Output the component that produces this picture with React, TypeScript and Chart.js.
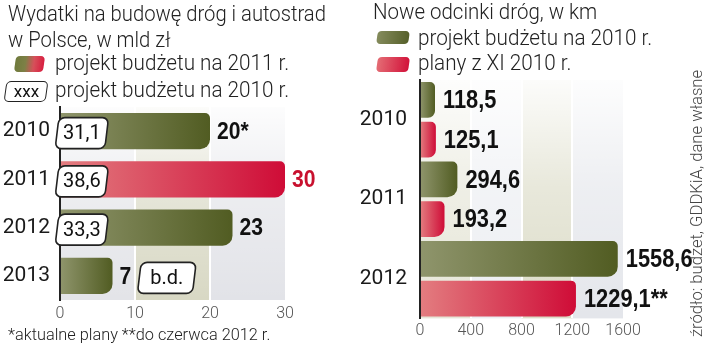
import React, { useEffect, useRef } from "react";
import { Chart, registerables } from "chart.js";

Chart.register(...registerables);

// ---------- data ----------
const spendingYears = ["2010", "2011", "2012", "2013"];
const spendingBudget2011 = [20, 30, 23, 7];
const spendingNotes = ["*", "", "", ""];
const spendingIsPlan2011 = [false, true, false, false];
const spendingBudget2010: (number | null)[] = [31.1, 38.6, 33.3, null];
const spendingTicks = [0, 10, 20, 30];

const roadYears = ["2010", "2011", "2012"];
const roadsBudget2010 = [118.5, 294.6, 1558.6];
const roadsPlansNov2010 = [125.1, 193.2, 1229.1];
const roadsPlansNotes = ["", "", "**"];
const roadTicks = [0, 400, 800, 1200, 1600];

// ---------- styles ----------
const GREEN_LIGHT = "#8f956c";
const GREEN_DARK = "#515c22";
const RED_LIGHT = "#e37d80";
const RED_DARK = "#cf0c37";
const RED_TEXT = "#c8102e";
const VALUE_FONT = '"Liberation Sans", Arial, sans-serif';

const fmt = (v: number) => v.toFixed(1).replace(".", ",");

function grad(ctx: any, light: string, dark: string) {
  const chart = ctx.chart;
  const xs = chart.scales && chart.scales.x;
  if (!chart.chartArea || !xs || ctx.raw == null) return dark;
  const x0 = xs.getPixelForValue(0);
  const x1 = xs.getPixelForValue(ctx.raw);
  if (!isFinite(x0) || !isFinite(x1) || x1 - x0 < 1) return dark;
  const g = chart.ctx.createLinearGradient(x0, 0, x1, 0);
  g.addColorStop(0, light);
  g.addColorStop(1, dark);
  return g;
}

function bandsPlugin(ticks: number[], colors: string[]) {
  return {
    id: "bands",
    beforeDraw(chart: any) {
      const { ctx, chartArea: a, scales } = chart;
      const xs = scales.x;
      ctx.save();
      for (let i = 0; i < ticks.length - 1; i++) {
        const x0 = xs.getPixelForValue(ticks[i]);
        const x1 = xs.getPixelForValue(ticks[i + 1]);
        ctx.fillStyle = colors[i];
        ctx.fillRect(x0, a.top, x1 - x0, a.bottom - a.top);
      }
      const g = ctx.createLinearGradient(0, a.top, 0, a.bottom);
      g.addColorStop(0, "rgba(255,255,255,0.92)");
      g.addColorStop(0.45, "rgba(255,255,255,0.35)");
      g.addColorStop(1, "rgba(255,255,255,0)");
      ctx.fillStyle = g;
      ctx.fillRect(a.left, a.top, a.right - a.left, a.bottom - a.top);
      ctx.restore();
    },
  };
}

function drawValue(c: CanvasRenderingContext2D, txt: string, x: number, y: number, color: string, size: number, sx: number) {
  c.save();
  c.font = `bold ${size}px ${VALUE_FONT}`;
  c.fillStyle = color;
  c.textBaseline = "middle";
  c.textAlign = "left";
  c.translate(x, y);
  c.scale(sx, 1);
  c.fillText(txt, 0, 0);
  const w = c.measureText(txt).width * sx;
  c.restore();
  return w;
}

function drawBox(c: CanvasRenderingContext2D, x: number, cy: number, text: string, pad: number) {
  c.save();
  c.font = `20px Roboto, sans-serif`;
  const tw = c.measureText(text).width;
  const w = tw + pad;
  const h = 31;
  c.translate(x + w / 2, cy);
  c.transform(1, 0, -0.12, 1, 0, 0);
  c.beginPath();
  (c as any).roundRect(-w / 2, -h / 2, w, h, 6);
  c.fillStyle = "#ffffff";
  c.fill();
  c.lineWidth = 1.6;
  c.strokeStyle = "#222";
  c.stroke();
  c.restore();
  c.save();
  c.font = `20px Roboto, sans-serif`;
  c.fillStyle = "#111";
  c.textAlign = "center";
  c.textBaseline = "middle";
  c.fillText(text, x + w / 2, cy + 1);
  c.restore();
}

const leftLabels = {
  id: "leftLabels",
  afterDatasetsDraw(chart: any) {
    const c = chart.ctx;
    const xs = chart.scales.x;
    const meta = chart.getDatasetMeta(0);
    meta.data.forEach((bar: any, i: number) => {
      const txt = String(spendingBudget2011[i]) + spendingNotes[i];
      const color = spendingIsPlan2011[i] ? RED_TEXT : "#111";
      const w = drawValue(c, txt, bar.x + 7, bar.y + 1, color, 24, 0.88);
      const v = spendingBudget2010[i];
      if (v == null) {
        drawBox(c, bar.x + 7 + w + 8, bar.y + 2, "b.d.", 22);
      } else {
        drawBox(c, xs.getPixelForValue(0) - 3, bar.y + 2, fmt(v), 12);
      }
    });
  },
};

const rightLabels = {
  id: "rightLabels",
  afterDatasetsDraw(chart: any) {
    const c = chart.ctx;
    [0, 1].forEach((di) => {
      const meta = chart.getDatasetMeta(di);
      meta.data.forEach((bar: any, i: number) => {
        const v = di === 0 ? roadsBudget2010[i] : roadsPlansNov2010[i];
        const txt = fmt(v) + (di === 1 ? roadsPlansNotes[i] : "");
        drawValue(c, txt, bar.x + 8, bar.y + 1, "#111", 26, 0.84);
      });
    });
  },
};

const tickFont = { family: "Roboto, sans-serif", size: 16, weight: "300" as any };
const yearFont = { family: "Roboto, sans-serif", size: 21, weight: "400" as any };

const T = (p: { x: number; y: number; size: number; sx?: number; weight?: number; color?: string; children: any }) => (
  <div
    style={{
      position: "absolute",
      left: p.x,
      top: p.y,
      fontSize: p.size,
      lineHeight: `${p.size}px`,
      fontFamily: "Roboto, sans-serif",
      fontWeight: p.weight ?? 300,
      color: p.color ?? "#222",
      whiteSpace: "nowrap",
      transform: `scaleX(${p.sx ?? 1})`,
      transformOrigin: "0 0",
    }}
  >
    {p.children}
  </div>
);

export default function App() {
  const leftRef = useRef<HTMLCanvasElement>(null);
  const rightRef = useRef<HTMLCanvasElement>(null);

  useEffect(() => {
    const left = new Chart(leftRef.current as HTMLCanvasElement, {
      type: "bar",
      data: {
        labels: spendingYears,
        datasets: [
          {
            data: spendingBudget2011,
            backgroundColor: (ctx: any) =>
              spendingIsPlan2011[ctx.dataIndex] ? grad(ctx, RED_LIGHT, RED_DARK) : grad(ctx, GREEN_LIGHT, GREEN_DARK),
            borderSkipped: "start",
            borderRadius: { topRight: 5, bottomRight: 10, topLeft: 0, bottomLeft: 0 },
            barPercentage: 0.75,
            categoryPercentage: 1,
          } as any,
        ],
      },
      options: {
        indexAxis: "y",
        responsive: false,
        animation: false,
        layout: { padding: { top: 107, right: 75, left: 0, bottom: 0 } },
        plugins: { legend: { display: false }, tooltip: { enabled: false }, title: { display: false } },
        scales: {
          x: {
            min: 0,
            max: 30,
            afterFit: (s: any) => {
              s.height = 44;
            },
            afterBuildTicks: (s: any) => {
              s.ticks = spendingTicks.map((v) => ({ value: v }));
            },
            grid: {
              color: (ctx: any) =>
                ctx.tick && (ctx.tick.value === 0 || ctx.tick.value === 30) ? "rgba(0,0,0,0)" : "#ffffff",
              lineWidth: 2,
              drawTicks: false,
            },
            border: { display: false },
            ticks: { font: tickFont, color: "#555", padding: 4, callback: (v: any) => String(v) },
          },
          y: {
            afterFit: (s: any) => {
              s.width = 60;
            },
            grid: { display: false, drawTicks: false },
            border: { display: true, color: "#222", width: 2 },
            ticks: { font: yearFont, color: "#1a1a1a", padding: 10 },
          },
        },
      } as any,
      plugins: [bandsPlugin(spendingTicks, ["#e3e4e8", "#d8d8c4", "#e2e3e8"]), leftLabels],
    });

    const right = new Chart(rightRef.current as HTMLCanvasElement, {
      type: "bar",
      data: {
        labels: roadYears,
        datasets: [
          {
            label: "projekt budżetu na 2010 r.",
            data: roadsBudget2010,
            backgroundColor: (ctx: any) => grad(ctx, GREEN_LIGHT, GREEN_DARK),
            borderSkipped: "start",
            borderRadius: { topRight: 5, bottomRight: 10, topLeft: 0, bottomLeft: 0 },
            barPercentage: 0.9,
            categoryPercentage: 1,
          } as any,
          {
            label: "plany z XI 2010 r.",
            data: roadsPlansNov2010,
            backgroundColor: (ctx: any) => grad(ctx, RED_LIGHT, RED_DARK),
            borderSkipped: "start",
            borderRadius: { topRight: 5, bottomRight: 10, topLeft: 0, bottomLeft: 0 },
            barPercentage: 0.9,
            categoryPercentage: 1,
          } as any,
        ],
      },
      options: {
        indexAxis: "y",
        responsive: false,
        animation: false,
        layout: { padding: { top: 80, right: 77, left: 0, bottom: 0 } },
        plugins: { legend: { display: false }, tooltip: { enabled: false }, title: { display: false } },
        scales: {
          x: {
            min: 0,
            max: 1600,
            afterFit: (s: any) => {
              s.height = 22;
            },
            afterBuildTicks: (s: any) => {
              s.ticks = roadTicks.map((v) => ({ value: v }));
            },
            grid: {
              color: (ctx: any) =>
                ctx.tick && (ctx.tick.value === 0 || ctx.tick.value === 1600) ? "rgba(0,0,0,0)" : "#ffffff",
              lineWidth: 2,
              drawTicks: false,
            },
            border: { display: false },
            ticks: { font: tickFont, color: "#555", padding: 3, callback: (v: any) => String(v) },
          },
          y: {
            afterFit: (s: any) => {
              s.width = 60;
            },
            grid: { display: false, drawTicks: false },
            border: { display: true, color: "#222", width: 2 },
            ticks: { font: yearFont, color: "#1a1a1a", padding: 13 },
          },
        },
      } as any,
      plugins: [bandsPlugin(roadTicks, ["#e6e6d8", "#eceef2", "#dcdcc8", "#e4e6eb"]), rightLabels],
    });

    return () => {
      left.destroy();
      right.destroy();
    };
  }, []);

  return (
    <div
      style={{
        position: "absolute",
        left: 0,
        top: 0,
        width: 720,
        height: 344,
        background: "#ffffff",
        overflow: "hidden",
      }}
    >
      <canvas ref={leftRef} width={360} height={344} style={{ position: "absolute", left: 0, top: 0 }} />
      <canvas ref={rightRef} width={340} height={344} style={{ position: "absolute", left: 360, top: 0 }} />

      {/* left title and legend */}
      <T x={8} y={2.5} size={22} sx={0.92}>Wydatki na budowę dróg i autostrad</T>
      <T x={8} y={28.5} size={22} sx={0.92}>w Polsce, w mld zł</T>
      <div
        style={{
          position: "absolute",
          left: 15,
          top: 56,
          width: 29,
          height: 16,
          borderRadius: 4,
          transform: "skewX(-8deg)",
          background: "linear-gradient(90deg, #6f7a3c 0%, #7d8046 35%, #d6505a 65%, #d81e40 100%)",
        }}
      />
      <T x={55} y={52} size={22} sx={0.94}>projekt budżetu na 2011 r.</T>
      <div
        style={{
          position: "absolute",
          left: 5,
          top: 81,
          width: 40,
          height: 19,
          border: "1.5px solid #222",
          borderRadius: 5,
          transform: "skewX(-8deg)",
          background: "#fff",
        }}
      />
      <div
        style={{
          position: "absolute",
          left: 5,
          top: 82,
          width: 43,
          fontFamily: "Roboto, sans-serif",
          fontSize: 17,
          lineHeight: "19px",
          textAlign: "center",
          color: "#111",
        }}
      >
        xxx
      </div>
      <T x={55} y={79} size={22} sx={0.94}>projekt budżetu na 2010 r.</T>
      <T x={8} y={325.5} size={17} sx={0.96}>*aktualne plany **do czerwca 2012 r.</T>

      {/* right title and legend */}
      <T x={373} y={1} size={22} sx={0.93}>Nowe odcinki dróg, w km</T>
      <div
        style={{
          position: "absolute",
          left: 377,
          top: 31,
          width: 32,
          height: 13,
          borderRadius: 4,
          transform: "skewX(-8deg)",
          background: "linear-gradient(90deg, #848b5c, #56602a)",
        }}
      />
      <T x={418} y={27} size={22} sx={0.94}>projekt budżetu na 2010 r.</T>
      <div
        style={{
          position: "absolute",
          left: 377,
          top: 57,
          width: 32,
          height: 15,
          borderRadius: 4,
          transform: "skewX(-8deg)",
          background: "linear-gradient(90deg, #e46c74, #d2123a)",
        }}
      />
      <T x={418} y={52} size={22} sx={0.94}>plany z XI 2010 r.</T>

      {/* source, rotated */}
      <div
        style={{
          position: "absolute",
          left: 689,
          top: 337,
          fontFamily: "Roboto, sans-serif",
          fontWeight: 300,
          fontSize: 16,
          lineHeight: "16px",
          color: "#444",
          whiteSpace: "nowrap",
          transform: "rotate(-90deg) scaleX(1.04)",
          transformOrigin: "0 0",
        }}
      >
        źródło: budżet, GDDKiA, dane własne
      </div>
    </div>
  );
}
